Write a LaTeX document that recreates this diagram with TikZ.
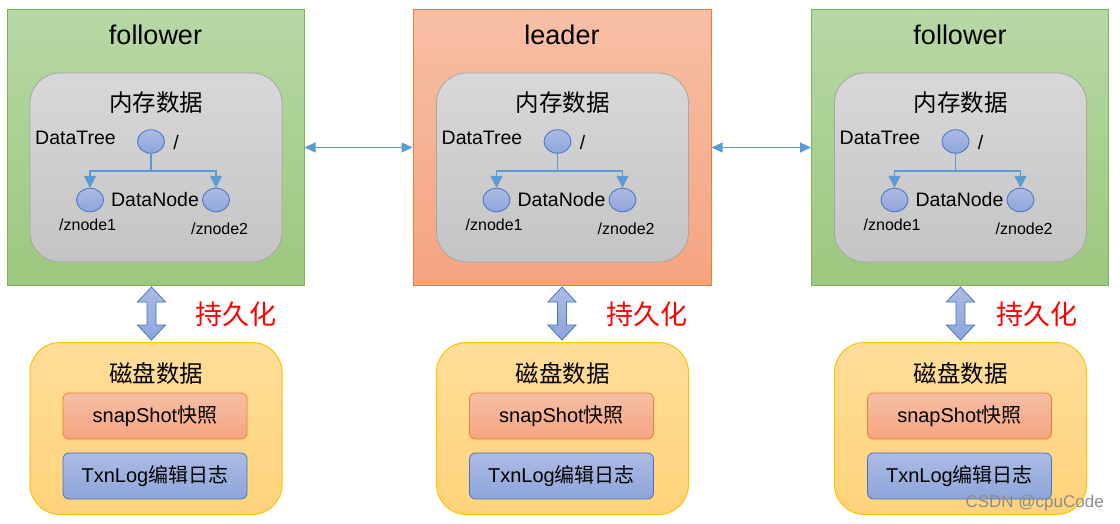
\documentclass[tikz,border=0pt]{standalone}
\usepackage{fontspec}
\setmainfont{Liberation Sans}
\newfontfamily\cjk{Noto Sans CJK SC}
\usetikzlibrary{arrows.meta,shapes.geometric}
\definecolor{gtop}{RGB}{183,216,165}
\definecolor{gbot}{RGB}{156,200,126}
\definecolor{gborder}{RGB}{125,178,86}
\definecolor{otop}{RGB}{247,191,166}
\definecolor{obot}{RGB}{245,164,128}
\definecolor{oborder}{RGB}{237,125,49}
\definecolor{mtop}{RGB}{216,216,216}
\definecolor{mbot}{RGB}{196,196,196}
\definecolor{mborder}{RGB}{166,166,166}
\definecolor{dtop}{RGB}{255,222,153}
\definecolor{dbot}{RGB}{255,211,122}
\definecolor{dborder}{RGB}{255,192,0}
\definecolor{btop}{RGB}{172,187,228}
\definecolor{bbot}{RGB}{142,165,218}
\definecolor{bborder}{RGB}{68,114,196}
\definecolor{lineblue}{RGB}{91,155,213}
\tikzset{
  followerbox/.style={draw=gborder, line width=1pt, top color=gtop, bottom color=gbot, inner sep=0pt, minimum width=297, minimum height=275},
  leaderbox/.style={draw=oborder, line width=1pt, top color=otop, bottom color=obot, inner sep=0pt, minimum width=298, minimum height=275},
  membox/.style={draw=mborder, line width=0.8pt, top color=mtop, bottom color=mbot, rounded corners=30pt, inner sep=0pt, minimum width=252, minimum height=189},
  diskbox/.style={draw=dborder, line width=1pt, top color=dtop, bottom color=dbot, rounded corners=30pt, inner sep=0pt, minimum width=252, minimum height=172},
  snapbox/.style={draw=oborder, line width=0.8pt, top color=otop, bottom color=obot, rounded corners=6pt, inner sep=0pt, minimum width=184, minimum height=46, font=\fontsize{20}{22}\selectfont},
  txnbox/.style={draw=bborder, line width=0.8pt, top color=btop, bottom color=bbot, rounded corners=6pt, inner sep=0pt, minimum width=184, minimum height=46, font=\fontsize{20}{22}\selectfont},
  titletext/.style={inner sep=0pt, font=\fontsize{27}{30}\selectfont},
  cjktitle/.style={inner sep=0pt, font=\cjk\fontsize{23.5}{26}\selectfont},
  lbl/.style={inner sep=0pt, font=\fontsize{19.5}{22}\selectfont},
  smalllbl/.style={inner sep=0pt, font=\fontsize{16}{18}\selectfont},
  dnode/.style={ellipse, draw=bborder, line width=0.8pt, top color=btop, bottom color=bbot, inner sep=0pt, minimum width=27, minimum height=23.5},
  tree/.style={draw=lineblue, line width=1.2pt},
  treearrow/.style={tree, -{Triangle[length=12pt,width=12pt]}},
  linkarrow/.style={draw=lineblue, line width=1pt, {Triangle[length=11pt,width=10pt]}-{Triangle[length=11pt,width=10pt]}},
  blockarrow/.style={draw=bborder, line width=0.8pt, top color=btop, bottom color=bbot},
  persist/.style={inner sep=0pt, text=red, font=\cjk\fontsize{27}{30}\selectfont},
  watermark/.style={inner sep=0pt, text=black!45, font=\fontsize{17}{19}\selectfont}
}
\newcommand\zkpanel[4]{%
  \begin{scope}[xshift=#2pt]
    \node[#3] (outer#1) at (155.5,147.5) {};
    \node[titletext] (title#1) at (155.5,35) {#4};
    \node[membox] (mem#1) at (156,167.5) {};
    \node[cjktitle] (memlbl#1) at (156,103) {内存数据};
    \node[lbl, anchor=west] (dt#1) at (35,137.5) {DataTree};
    \node[dnode] (root#1) at (151,141.5) {};
    \node[lbl] (slash#1) at (176,143) {/};
    \node[dnode] (za#1) at (90,200) {};
    \node[dnode] (zb#1) at (216,200) {};
    \node[lbl] (dn#1) at (155,200) {DataNode};
    \node[smalllbl, anchor=west] (la#1) at (59,225) {/znode1};
    \node[smalllbl, anchor=west] (lb#1) at (191,229) {/znode2};
    \coordinate (j#1) at (151,171);
    \draw[tree] (root#1.south) -- (j#1);
    \draw[treearrow] (j#1) -| (za#1.north);
    \draw[treearrow] (j#1) -| (zb#1.north);
    \node[diskbox] (disk#1) at (156,428.5) {};
    \node[cjktitle] (disklbl#1) at (156,373) {磁盘数据};
    \node[snapbox] (snap#1) at (155,416) {snapShot{\cjk 快照}};
    \node[txnbox] (txn#1) at (155,476) {TxnLog{\cjk 编辑日志}};
  \end{scope}}
\newcommand\zkblock[1]{%
  \path[blockarrow] (#1,287) -- (#1+14,302) -- (#1+4.5,302) -- (#1+4.5,325) -- (#1+14,325) -- (#1,340) -- (#1-14,325) -- (#1-4.5,325) -- (#1-4.5,302) -- (#1-14,302) -- cycle;}
\begin{document}
\begin{tikzpicture}[x=1pt,y=-1pt]
  \useasboundingbox[fill=white] (0,0) rectangle (1120,524);
  \zkpanel{1}{0}{followerbox}{follower}
  \zkpanel{2}{406.5}{leaderbox}{leader}
  \zkpanel{3}{804.5}{followerbox}{follower}
  \draw[linkarrow] (outer1.east) -- (outer2.west);
  \draw[linkarrow] (outer2.east) -- (outer3.west);
  \zkblock{151.5}
  \zkblock{562}
  \zkblock{960.5}
  \node[persist] (p1) at (236,314) {持久化};
  \node[persist] (p2) at (647,314) {持久化};
  \node[persist] (p3) at (1037,314) {持久化};
  \node[watermark, anchor=east] (wm) at (1104,503) {CSDN @cpuCode};
\end{tikzpicture}
\end{document}
